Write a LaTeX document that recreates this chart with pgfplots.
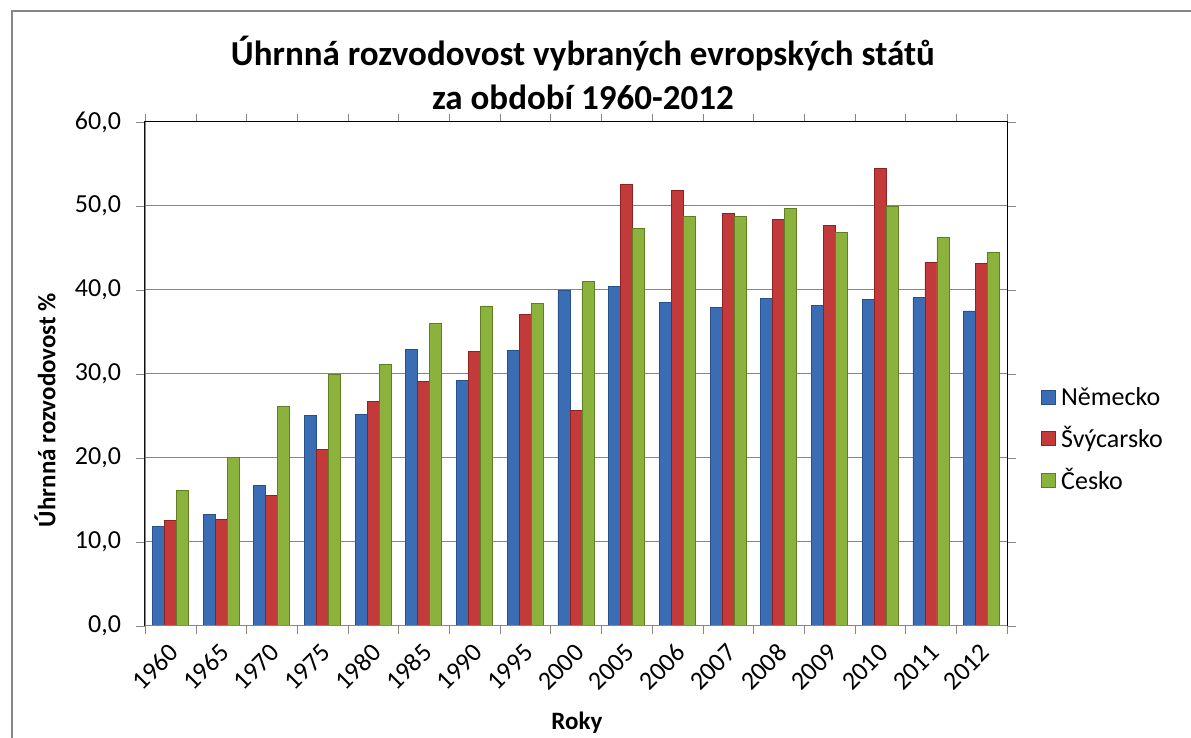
\documentclass[border=0pt]{standalone}
\usepackage{pgfplots}
\pgfplotsset{compat=1.18}
\usepackage{fontspec}
\setmainfont{Carlito}

\definecolor{blueD}{HTML}{28508A}
\definecolor{blueM}{HTML}{3A6DB4}
\definecolor{redD}{HTML}{8E2222}
\definecolor{redM}{HTML}{C23A3A}
\definecolor{greenD}{HTML}{617F22}
\definecolor{greenM}{HTML}{8BB23C}
\definecolor{axgray}{HTML}{868686}

\begin{document}
\begin{tikzpicture}
% 1 px of the reference = 0.5pt
\useasboundingbox (-72.5pt,-56pt) rectangle (523pt,313pt);
\draw[axgray, line width=1pt] (-66.5pt,-60pt) -- (-66.5pt,307.5pt) -- (530pt,307.5pt);
\begin{axis}[
  name=ax,
  at={(0,0)}, anchor=south west,
  scale only axis,
  width=431pt, height=252pt,
  ybar=0pt,
  bar width=6pt,
  xmin=-0.5, xmax=16.5,
  ymin=0, ymax=60,
  ytick={0,10,...,60},
  xtick={0,...,16},
  xticklabels={1960,1965,1970,1975,1980,1985,1990,1995,2000,2005,2006,2007,2008,2009,2010,2011,2012},
  minor xtick={-0.5,0.5,...,16.5},
  major x tick style={draw=none},
  minor x tick style={draw=axgray},
  y tick style={draw=axgray},
  major tick length=4.5pt,
  minor tick length=4pt,
  tick align=outside,
  ymajorgrids,
  grid style={axgray, line width=0.5pt},
  axis line style={black, line width=0.5pt},
  /pgf/number format/.cd, fixed, fixed zerofill, precision=1, use comma, assume math mode=true,
  /pgfplots/.cd,
  tick label style={font=\fontsize{13}{15.6}\selectfont},
  yticklabel style={xshift=-4pt},
  xticklabel style={rotate=45, anchor=east, xshift=0pt, yshift=-6pt},
  title={Úhrnná rozvodovost vybraných evropských států\\za období 1960-2012},
  title style={font=\bfseries\fontsize{17.5}{22}\selectfont, align=center, at={(0.508,1)}, anchor=south, yshift=-3.5pt},
  xlabel={Roky},
  xlabel style={font=\bfseries\fontsize{12.5}{15}\selectfont, at={(axis description cs:0.501,0)}, anchor=base, yshift=-52pt},
  ylabel={Úhrnná rozvodovost \%},
  ylabel style={font=\bfseries\fontsize{12.5}{15}\selectfont, at={(axis description cs:0,0.4286)}, anchor=center, yshift=50pt},
  legend style={draw=none, fill=none, at={(1,0.369)}, anchor=west, xshift=14pt,
    font=\fontsize{13}{15.6}\selectfont, row sep=7pt,
    nodes={inner sep=1pt, inner xsep=2.5pt, anchor=west}},
  legend cell align=left,
  legend image code/.code={\draw[#1, line width=0.4pt] (0pt,-3.5pt) rectangle (7pt,3.5pt);},
]
\addplot[fill=blueM, draw=blueD, line width=0.4pt]
  coordinates {(0,11.9)(1,13.3)(2,16.75)(3,25.1)(4,25.2)(5,32.9)(6,29.2)(7,32.8)(8,40.0)(9,40.4)(10,38.5)(11,37.9)(12,39.0)(13,38.2)(14,38.9)(15,39.1)(16,37.5)};
\addplot[fill=redM, draw=redD, line width=0.4pt]
  coordinates {(0,12.6)(1,12.7)(2,15.5)(3,21.0)(4,26.7)(5,29.1)(6,32.7)(7,37.1)(8,25.7)(9,52.6)(10,51.8)(11,49.1)(12,48.4)(13,47.7)(14,54.5)(15,43.3)(16,43.2)};
\addplot[fill=greenM, draw=greenD, line width=0.4pt]
  coordinates {(0,16.1)(1,20.1)(2,26.1)(3,30.0)(4,31.1)(5,36.0)(6,38.1)(7,38.4)(8,41.0)(9,47.3)(10,48.8)(11,48.8)(12,49.7)(13,46.9)(14,49.9)(15,46.3)(16,44.5)};
\legend{Německo, Švýcarsko, Česko}
\draw[axgray, line width=0.8pt] (rel axis cs:0,0) -- (rel axis cs:0,1);
\draw[axgray, line width=0.8pt] (rel axis cs:0,0) -- (rel axis cs:1,0);
\end{axis}
\end{tikzpicture}
\end{document}
